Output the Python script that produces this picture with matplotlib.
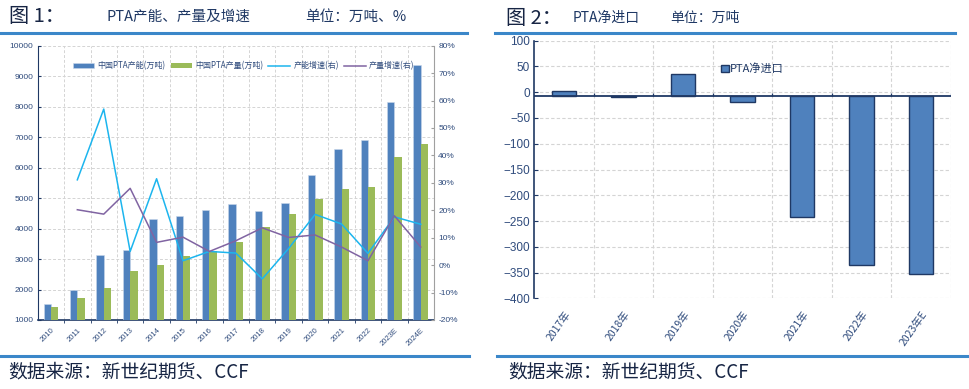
import numpy as np
import matplotlib.pyplot as plt
from matplotlib.lines import Line2D

plt.rcParams['font.family'] = ['Noto Sans CJK SC', 'DejaVu Sans']
plt.rcParams['axes.unicode_minus'] = True

# ---- data: figure 1 (PTA capacity / output / growth) ----
years1 = ['2010', '2011', '2012', '2013', '2014', '2015', '2016', '2017',
          '2018', '2019', '2020', '2021', '2022', '2023E', '2024E']
capacity = [1520, 2000, 3140, 3300, 4330, 4400, 4610, 4820,
            4570, 4850, 5750, 6610, 6910, 8150, 9370]
output = [1430, 1710, 2040, 2600, 2810, 3110, 3250, 3570,
          4040, 4470, 4970, 5290, 5380, 6360, 6780]
cap_growth = [np.nan, 31.1, 56.9, 5.0, 31.5, 1.6, 5.0, 4.4,
              -5.0, 6.1, 18.5, 15.0, 4.3, 17.6, 14.9]
out_growth = [np.nan, 20.2, 18.6, 28.0, 8.3, 10.2, 5.0, 8.9,
              13.6, 10.1, 11.0, 6.6, 1.6, 18.0, 6.6]

# ---- data: figure 2 (PTA net import) ----
years2 = ['2017年', '2018年', '2019年', '2020年', '2021年', '2022年', '2023年E']
net_import = [2, -10, 35, -19, -243, -336, -353]

W, H = 969, 389
NAVY = '#1F3864'
HEAD = '#172544'
LABEL = '#2F4B7C'
BLUE = '#4F81BD'
GREEN = '#9BBB59'
CYAN = '#1CB5EE'
PURPLE = '#8064A2'
RULE = '#3B87C9'
NUM_FONT = ['Liberation Sans Narrow', 'Liberation Sans', 'DejaVu Sans']


def box(x0, y0, x1, y1):
    """pixel box (top-left origin) -> figure fraction rect"""
    return [x0 / W, 1 - y1 / H, (x1 - x0) / W, (y1 - y0) / H]


def ftext(x, y, s, **kw):
    fig.text(x / W, 1 - y / H, s, va='center', ha='left', **kw)


fig = plt.figure(figsize=(W / 100, H / 100), dpi=100)

# ---------------- figure 1 ----------------
ax1 = fig.add_axes(box(37.7, 45.7, 434, 320))
x = np.arange(len(years1))
bw = 0.28
ax1.bar(x - bw / 2, capacity, bw, color=BLUE, edgecolor='#C9D7EA', linewidth=0.4,
        label='中国PTA产能(万吨)', zorder=3)
ax1.bar(x + bw / 2, output, bw, color=GREEN, edgecolor='none',
        label='中国PTA产量(万吨)', zorder=3)
ax1.set_xlim(-0.5, len(years1) - 0.5)
ax1.set_ylim(1000, 10000)
ax1.set_yticks(np.arange(1000, 10001, 1000))
ax1.set_xticks(x)
ax1.set_xticklabels(years1, rotation=45, ha='right', rotation_mode='anchor')
ax1.set_xticks(np.arange(0.5, len(years1) - 1, 1), minor=True)
ax1.tick_params(axis='x', which='major', length=0, pad=5, labelsize=5.5, labelcolor=LABEL)
ax1.tick_params(axis='x', which='minor', length=2.5, direction='out', color=NAVY)
ax1.tick_params(axis='y', length=2.5, direction='in', color=NAVY, labelsize=6, labelcolor=LABEL, pad=3)
for lab in ax1.get_yticklabels() + ax1.get_xticklabels():
    lab.set_family(NUM_FONT)
ax1.grid(axis='y', which='major', color='#D4D4D4', linestyle=(0, (3, 2)), linewidth=0.7)
ax1.grid(axis='x', which='minor', color='#D4D4D4', linestyle=(0, (3, 2)), linewidth=0.7)
ax1.set_axisbelow(True)
ax1.spines['top'].set_visible(False)
ax1.spines['right'].set_visible(False)
ax1.spines['left'].set_color(NAVY)
ax1.spines['bottom'].set_color(NAVY)
ax1.spines['bottom'].set_linewidth(1.2)

ax1r = ax1.twinx()
ax1r.plot(x, cap_growth, color=CYAN, linewidth=1.1, label='产能增速(右)', zorder=4)
ax1r.plot(x, out_growth, color=PURPLE, linewidth=1.1, label='产量增速(右)', zorder=4)
ax1r.set_ylim(-20, 80)
ax1r.set_yticks(np.arange(-20, 81, 10))
ax1r.set_yticklabels([f'{v}%' for v in range(-20, 81, 10)])
ax1r.tick_params(axis='y', length=2.5, direction='in', color='#A0A0A0', labelsize=6, labelcolor=LABEL, pad=3)
for lab in ax1r.get_yticklabels():
    lab.set_family(NUM_FONT)
for s in ('top', 'left', 'bottom'):
    ax1r.spines[s].set_visible(False)
ax1r.spines['right'].set_color('#A0A0A0')

h1, l1 = ax1.get_legend_handles_labels()
h2, l2 = ax1r.get_legend_handles_labels()
leg = ax1r.legend(h1 + h2, l1 + l2, ncol=4, loc='center left',
                  bbox_to_anchor=(0.08, 0.927), frameon=False, fontsize=5.8,
                  handlelength=2.7, handleheight=0.5, handletextpad=0.4,
                  columnspacing=0.6, borderaxespad=0)
for t in leg.get_texts():
    t.set_color(LABEL)

# ---------------- figure 2 ----------------
ax2 = fig.add_axes(box(534.3, 40.7, 950.7, 298.3))
x2 = np.arange(len(years2))
base = -7.5  # category axis crosses here
vals = np.array(net_import, dtype=float)
ax2.bar(x2, vals - base, 0.41, bottom=base, color=BLUE, edgecolor=NAVY,
        linewidth=1.0, label='PTA净进口', zorder=3)
ax2.axhline(base, color=NAVY, linewidth=1.3, zorder=4)
ax2.vlines(np.arange(0.5, len(years2), 1), base, base + 6, color=NAVY, linewidth=0.9, zorder=4)
ax2.set_xlim(-0.5, len(years2) - 0.5)
ax2.set_ylim(-400, 100)
ax2.set_yticks(np.arange(-400, 101, 50))
ax2.set_xticks(x2)
ax2.set_xticklabels(years2, rotation=55, ha='right', rotation_mode='anchor')
ax2.set_xticks(np.arange(0.5, len(years2), 1), minor=True)
ax2.tick_params(axis='x', which='both', length=0, pad=8, labelsize=7.5, labelcolor=LABEL)
ax2.tick_params(axis='y', length=3, direction='in', color=NAVY, labelsize=8.5, labelcolor=LABEL, pad=3)
for lab in ax2.get_yticklabels():
    lab.set_family(NUM_FONT)
ax2.grid(axis='y', which='major', color='#D4D4D4', linestyle=(0, (3, 2)), linewidth=0.8)
ax2.grid(axis='x', which='minor', color='#D4D4D4', linestyle=(0, (3, 2)), linewidth=0.8)
ax2.set_axisbelow(True)
for s in ('top', 'right', 'bottom'):
    ax2.spines[s].set_visible(False)
ax2.spines['left'].set_color(NAVY)
ax2.spines['left'].set_linewidth(1.2)
leg2 = ax2.legend(loc='center left', bbox_to_anchor=(0.438, 0.89), frameon=False,
                  fontsize=8, handlelength=0.7, handleheight=0.7, handletextpad=0.1,
                  borderaxespad=0)
for t in leg2.get_texts():
    t.set_color(NAVY)

# ---------------- headers / footers ----------------
ftext(9, 17, '图 1：', fontsize=14.5, color=HEAD)
ftext(107, 17, 'PTA产能、产量及增速', fontsize=10.5, color=NAVY)
ftext(305, 17, '单位：万吨、%', fontsize=10.5, color=NAVY)
ftext(506, 18, '图 2：', fontsize=14.5, color=HEAD)
ftext(573, 18, 'PTA净进口', fontsize=10, color=NAVY)
ftext(670, 18, '单位：万吨', fontsize=10, color=NAVY)

fig.add_artist(Line2D([0, 467 / W], [1 - 33 / H] * 2, color=RULE, linewidth=2.2))
fig.add_artist(Line2D([495 / W, 955 / W], [1 - 33 / H] * 2, color=RULE, linewidth=2.2))
fig.add_artist(Line2D([0, 469 / W], [1 - 356 / H] * 2, color=RULE, linewidth=2.2))
fig.add_artist(Line2D([497 / W, 1], [1 - 356 / H] * 2, color=RULE, linewidth=2.2))

ftext(8, 372, '数据来源：新世纪期货、CCF', fontsize=13.5, color=HEAD)
ftext(508, 372, '数据来源：新世纪期货、CCF', fontsize=13.5, color=HEAD)

fig.savefig('out.png', dpi=100)
